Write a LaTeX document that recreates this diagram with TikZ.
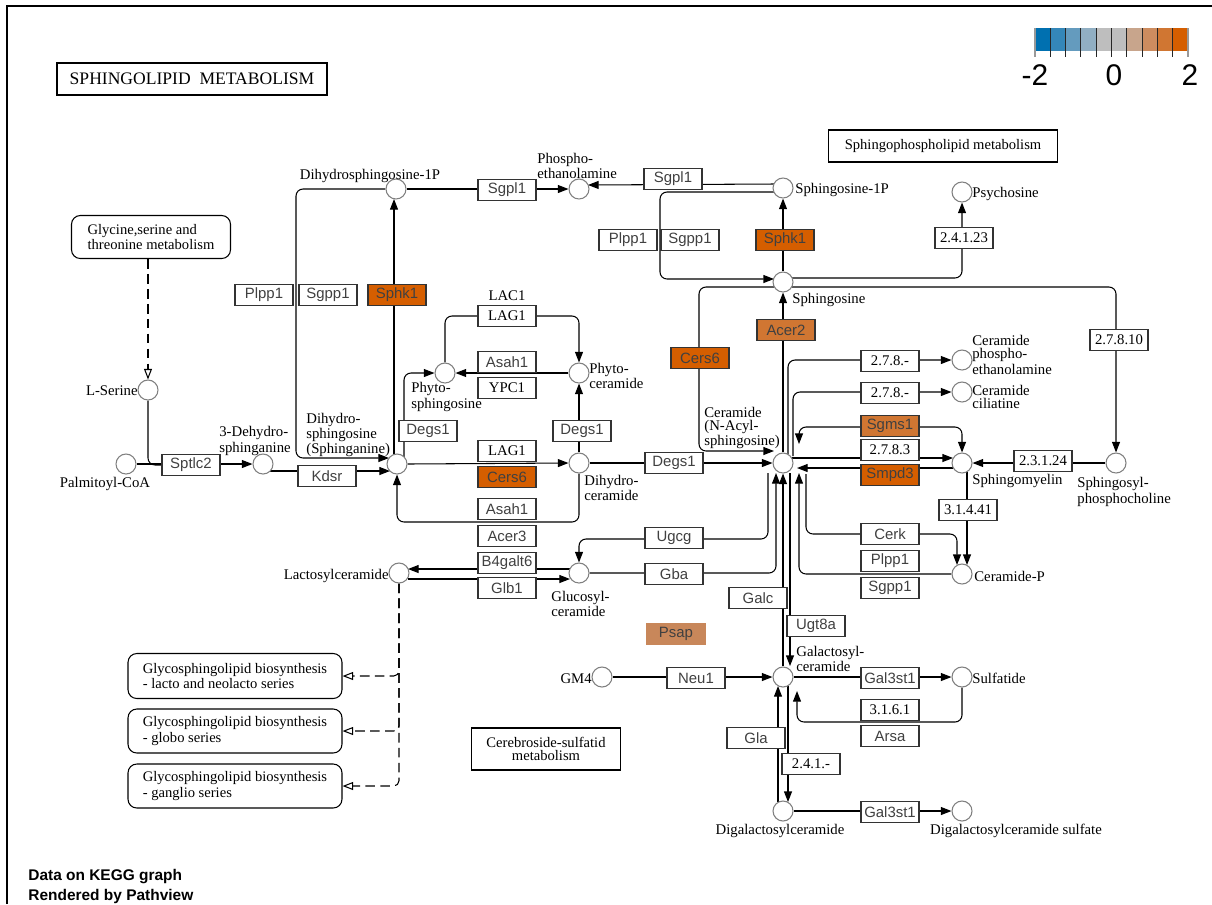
\documentclass[tikz,border=0pt]{standalone}
\usepackage{fontspec}
\setmainfont{Liberation Serif}
\setsansfont{Liberation Sans}
\usetikzlibrary{arrows.meta,calc}
\pgfdeclarelayer{bg}
\pgfsetlayers{bg,main}
\definecolor{hiA}{HTML}{D55E00}
\definecolor{hiB}{HTML}{D07632}
\definecolor{hiC}{HTML}{C8875A}
\definecolor{lgA}{HTML}{0070B0}
\definecolor{lgB}{HTML}{3487B9}
\definecolor{lgC}{HTML}{649BBE}
\definecolor{lgD}{HTML}{91AFC3}
\definecolor{lgE}{HTML}{BEBEBE}
\definecolor{lgF}{HTML}{BEBEBE}
\definecolor{lgG}{HTML}{C8A58C}
\definecolor{lgH}{HTML}{CD8C5F}
\definecolor{lgI}{HTML}{D07632}
\definecolor{lgJ}{HTML}{D55E00}
\tikzset{
  gene/.style={draw=black!80, fill=white, line width=0.6pt, minimum width=1.16cm, minimum height=0.42cm, inner sep=0pt, font=\sffamily\fontsize{8.5}{9}\selectfont, text=black!75},
  ecbox/.style={gene, font=\rmfamily\fontsize{8.4}{9}\selectfont, text=black},
  cpd/.style={circle, draw=black!50, fill=white, line width=0.6pt, minimum size=0.4cm, inner sep=0pt},
  lab/.style={inner sep=0pt, font=\rmfamily\fontsize{8.4}{7.4}\selectfont, align=left},
  mapbox/.style={draw, rounded corners=5pt, line width=0.6pt, inner sep=0pt, font=\rmfamily\fontsize{8.3}{7.4}\selectfont, align=left},
  plainbox/.style={draw, line width=0.6pt, inner sep=0pt, font=\rmfamily\fontsize{8.3}{7.4}\selectfont, align=center},
  rel/.style={line width=0.6pt, rounded corners=4pt},
  arr/.style={rel, -{Triangle[length=6pt,width=4.5pt]}},
  darr/.style={rel, {Triangle[length=6pt,width=4.5pt]}-{Triangle[length=6pt,width=4.5pt]}},
  dsh/.style={line width=0.6pt, dash pattern=on 5.5pt off 3pt, rounded corners=3pt, -{Triangle[open,length=6pt,width=4.5pt]}},
}
\begin{document}
\begin{tikzpicture}[x=0.02cm,y=-0.02cm]
\useasboundingbox (0,0) rectangle (1212,904);
\draw[line width=0.8pt] (7,904) -- (7,6) -- (1212,6);

% title and map boxes
\node[draw, line width=1.2pt, minimum width=5.4cm, minimum height=0.64cm, inner sep=0pt, font=\rmfamily\fontsize{10}{11}\selectfont] (title) at (192,79) {SPHINGOLIPID\ \ METABOLISM};
\node[mapbox, minimum width=3.18cm, minimum height=0.86cm] (m_gly) at (151,237) {Glycine,serine and\\threonine metabolism};
\node[mapbox, minimum width=4.28cm, minimum height=0.9cm] (m_lacto) at (235,676) {Glycosphingolipid biosynthesis\\- lacto and neolacto series};
\node[mapbox, minimum width=4.28cm, minimum height=0.88cm] (m_globo) at (235,731) {Glycosphingolipid biosynthesis\\- globo series};
\node[mapbox, minimum width=4.28cm, minimum height=0.88cm] (m_gang) at (235,786) {Glycosphingolipid biosynthesis\\- ganglio series};
\node[plainbox, minimum width=4.58cm, minimum height=0.64cm] (m_sphl) at (943,146) {Sphingophospholipid metabolism};
\node[plainbox, minimum width=2.98cm, minimum height=0.84cm] (m_cere) at (546,749) {Cerebroside-sulfatid\\metabolism};

% legend
\foreach \c [count=\i from 0] in {lgA,lgB,lgC,lgD,lgE,lgF,lgG,lgH,lgI,lgJ}
  \fill[\c] ({1035+\i*15.3},28) rectangle ({1035+(\i+1)*15.3},51);
\foreach \i in {1,...,9}
  \draw[line width=0.6pt, black!85] ({1035+\i*15.3},28) -- ({1035+\i*15.3},57);
\draw[line width=0.6pt, black!40] (1035,28) -- (1035,57);
\draw[line width=0.6pt, black!40] (1188,28) -- (1188,57);
\node[font=\sffamily\fontsize{17}{18}\selectfont, inner sep=0pt, anchor=base] (lg_m2) at (1035,85) {-2};
\node[font=\sffamily\fontsize{17}{18}\selectfont, inner sep=0pt, anchor=base] (lg_0) at (1114,85) {0};
\node[font=\sffamily\fontsize{17}{18}\selectfont, inner sep=0pt, anchor=base] (lg_2) at (1190,85) {2};

% compounds
\node[cpd] (c_dhs1p) at (396,189) {};
\node[cpd] (c_pe) at (579,189) {};
\node[cpd] (c_s1p) at (783,188) {};
\node[cpd] (c_psy) at (962,192) {};
\node[cpd] (c_sph) at (783,282) {};
\node[cpd] (c_ser) at (148,390) {};
\node[cpd] (c_pal) at (126,464) {};
\node[cpd] (c_kds) at (263,464) {};
\node[cpd] (c_dhs) at (397,464) {};
\node[cpd] (c_phs) at (445,373) {};
\node[cpd] (c_phc) at (579,373) {};
\node[cpd] (c_dhc) at (579,463) {};
\node[cpd] (c_cer) at (783,463) {};
\node[cpd] (c_cpe) at (962,360) {};
\node[cpd] (c_cil) at (962,392) {};
\node[cpd] (c_sm) at (962,463) {};
\node[cpd] (c_spc) at (1116,463) {};
\node[cpd] (c_cerp) at (962,574) {};
\node[cpd] (c_lac) at (399,573) {};
\node[cpd] (c_glc) at (579,573) {};
\node[cpd] (c_gm4) at (602,677) {};
\node[cpd] (c_gal) at (783,677) {};
\node[cpd] (c_sul) at (962,677) {};
\node[cpd] (c_dig) at (783,811) {};
\node[cpd] (c_dgs) at (962,811) {};

% compound labels
\node[lab, anchor=base] (l_dhs1p) at (370,179) {Dihydrosphingosine-1P};
\node[lab, anchor=west] (l_pe) at (537,166) {Phospho-\\ethanolamine};
\node[lab, anchor=west] (l_s1p) at (795,190) {Sphingosine-1P};
\node[lab, anchor=west] (l_psy) at (972,194) {Psychosine};
\node[lab, anchor=west] (l_sph) at (792,300) {Sphingosine};
\node[lab, anchor=east] (l_ser) at (138,391) {L-Serine};
\node[lab, anchor=base] (l_pal) at (105,487) {Palmitoyl-CoA};
\node[lab, anchor=west] (l_kds) at (219,441) {3-Dehydro-\\sphinganine};
\node[lab, anchor=west] (l_dhs) at (306,435) {Dihydro-\\sphingosine\\(Sphinganine)};
\node[lab, anchor=west] (l_phs) at (411,397) {Phyto-\\sphingosine};
\node[lab, anchor=west] (l_phc) at (589,376) {Phyto-\\ceramide};
\node[lab, anchor=west] (l_dhc) at (584,488) {Dihydro-\\ceramide};
\node[lab, anchor=west] (l_cer) at (704,428) {Ceramide\\(N-Acyl-\\sphingosine)};
\node[lab, anchor=west] (l_cpe) at (972,355) {Ceramide\\phospho-\\ethanolamine};
\node[lab, anchor=west] (l_cil) at (972,397) {Ceramide\\ciliatine};
\node[lab, anchor=west] (l_sm) at (972,481) {Sphingomyelin};
\node[lab, anchor=west] (l_spc) at (1077,492) {Sphingosyl-\\phosphocholine};
\node[lab, anchor=west] (l_cerp) at (974,576) {Ceramide-P};
\node[lab, anchor=east] (l_lac) at (389,576) {Lactosylceramide};
\node[lab, anchor=west] (l_glc) at (551,604) {Glucosyl-\\ceramide};
\node[lab, anchor=east] (l_gm4) at (592,679) {GM4};
\node[lab, anchor=west] (l_gal) at (796,659) {Galactosyl-\\ceramide};
\node[lab, anchor=west] (l_sul) at (972,678) {Sulfatide};
\node[lab, anchor=base] (l_dig) at (780,834) {Digalactosylceramide};
\node[lab, anchor=base] (l_dgs) at (1016,834) {Digalactosylceramide sulfate};

% gene and enzyme boxes
\node[gene] (g_sgpl1a) at (507,190) {Sgpl1};
\node[gene] (g_sgpl1b) at (673,179) {Sgpl1};
\node[gene] (g_plpp1a) at (628,240) {Plpp1};
\node[gene] (g_sgpp1a) at (690,240) {Sgpp1};
\node[gene, fill=hiA] (g_sphk1a) at (785,240) {Sphk1};
\node[ecbox] (e_24123) at (964,238) {2.4.1.23};
\node[gene] (g_plpp1b) at (264,295) {Plpp1};
\node[gene] (g_sgpp1b) at (328,295) {Sgpp1};
\node[gene, fill=hiA] (g_sphk1b) at (397,295) {Sphk1};
\node[lab] (t_lac1) at (507,296) {LAC1};
\node[ecbox] (e_lag1a) at (507,316) {LAG1};
\node[gene] (g_asah1a) at (507,362) {Asah1};
\node[ecbox] (e_ypc1) at (507,388) {YPC1};
\node[gene, fill=hiB] (g_acer2) at (786,330) {Acer2};
\node[gene, fill=hiA] (g_cers6a) at (700,358) {Cers6};
\node[ecbox] (e_2788a) at (890,361) {2.7.8.-};
\node[ecbox] (e_2788b) at (890,393) {2.7.8.-};
\node[gene] (g_degs1a) at (428,431) {Degs1};
\node[gene] (g_degs1b) at (582,431) {Degs1};
\node[ecbox] (e_lag1b) at (507,451) {LAG1};
\node[gene, fill=hiA] (g_cers6b) at (507,477) {Cers6};
\node[gene] (g_degs1c) at (674,463) {Degs1};
\node[gene, fill=hiB] (g_sgms1) at (890,426) {Sgms1};
\node[ecbox] (e_2783) at (890,450) {2.7.8.3};
\node[gene, fill=hiA] (g_smpd3) at (890,475) {Smpd3};
\node[ecbox] (e_23124) at (1043,461) {2.3.1.24};
\node[ecbox] (e_27810) at (1119,340) {2.7.8.10};
\node[ecbox] (e_31441) at (968,510) {3.1.4.41};
\node[gene] (g_kdsr) at (327,476) {Kdsr};
\node[gene] (g_sptlc2) at (191,465) {Sptlc2};
\node[gene] (g_asah1b) at (507,509) {Asah1};
\node[gene] (g_acer3) at (507,536) {Acer3};
\node[gene] (g_b4galt6) at (507,563) {B4galt6};
\node[gene] (g_glb1) at (507,588) {Glb1};
\node[gene] (g_ugcg) at (674,538) {Ugcg};
\node[gene] (g_gba) at (674,574) {Gba};
\node[gene] (g_cerk) at (890,534) {Cerk};
\node[gene] (g_plpp1c) at (890,561) {Plpp1};
\node[gene] (g_sgpp1c) at (890,588) {Sgpp1};
\node[gene] (g_galc) at (758,598) {Galc};
\node[gene, fill=hiC, draw=hiC] (g_psap) at (676,634) {Psap};
\node[gene] (g_ugt8a) at (816,626) {Ugt8a};
\node[gene] (g_neu1) at (696,678) {Neu1};
\node[gene] (g_gal3st1a) at (890,678) {Gal3st1};
\node[ecbox] (e_3161) at (890,710) {3.1.6.1};
\node[gene] (g_arsa) at (890,736) {Arsa};
\node[gene] (g_gla) at (756,738) {Gla};
\node[ecbox] (e_241) at (811,764) {2.4.1.-};
\node[gene] (g_gal3st1b) at (890,812) {Gal3st1};

% footer
\node[font=\sffamily\bfseries\fontsize{8.8}{10}\selectfont, inner sep=0pt, anchor=west] (f1) at (28,877) {Data on KEGG graph};
\node[font=\sffamily\bfseries\fontsize{8.8}{10}\selectfont, inner sep=0pt, anchor=west] (f2) at (28,896) {Rendered by Pathview};

\begin{pgfonlayer}{bg}
% top region
\draw[arr] (c_dhs1p.east) -- (c_pe.west);
\draw[arr] ($(c_s1p)+(-9,-4)$) -- ($(c_pe)+(9,-4)$);
\draw[arr] ($(c_s1p)+(-9,4)$) -- (660,192) -- (660,279) -- ($(c_sph)+(-9,-3)$);
\draw[arr] (c_sph.north) -- (c_s1p.south);
\draw[arr] ($(c_sph)+(9,-4)$) -- (962,278) -- (c_psy.south);
\draw[arr] ($(c_sph)+(9,5)$) -- (1116,287) -- (c_spc.north);
\draw[arr] (c_cer.north) -- (c_sph.south);
\draw[arr] ($(c_sph)+(-9,5)$) -- (699,287) -- (699,451) -- ($(c_cer)+(-9,-12)$);
% left region
\draw[arr] (c_dhs1p.west) -- (296,189) -- (296,458) -- ($(c_dhs)+(-8,-6)$);
\draw[arr] ($(c_dhs)+(-3,-10)$) -- ($(c_dhs1p)+(-2,10)$);
\draw[arr] (c_pal.east) -- (c_kds.west);
\draw[rel] (c_ser.south) |- (g_sptlc2.west);
\draw[dsh] (m_gly.south -| c_ser) -- (c_ser.north);
\draw[arr] ($(c_kds)+(7,7)$) -- ($(c_dhs)+(-7,7)$);
\draw[arr] (c_dhs.east) -- (c_dhc.west);
\draw[arr] (c_dhc.south) -- (579,522) -- (397,522) -- (c_dhs.south);
\draw[arr] (c_dhc.north) -- (c_phc.south);
\draw[arr] ($(c_dhs)+(7,-7)$) -- (404,373) -- (c_phs.west);
\draw[arr] (c_phc.west) -- (c_phs.east);
\draw[arr] (c_phs.north) -- (445,316) -- (579,316) -- (c_phc.north);
\draw[arr] (c_dhc.east) -- (c_cer.west);
% ceramide right side
\draw[arr] ($(c_cer)+(5,-9)$) -- (788,360) -- (c_cpe.west);
\draw[arr] ($(c_cer)+(10,-7)$) -- (793,392) -- (c_cil.west);
\draw[darr] ($(c_cer)+(16,-19)$) -- (799,427) -- (962,427) -- (c_sm.north);
\draw[arr] ($(c_cer)+(9,-5)$) -- ($(c_sm)+(-9,-5)$);
\draw[arr] ($(c_sm)+(-9,5)$) -- ($(c_cer)+(14,5)$);
\draw[arr] (c_spc.west) -- (c_sm.east);
\draw[arr] ($(c_sm)+(5,9)$) -- ($(c_cerp)+(5,-9)$);
\draw[arr] ($(c_cer)+(23,11)$) -- (806,534) -- (957,534) -- ($(c_cerp)+(-5,-9)$);
\draw[arr] (c_cerp.west) -- (799,574) -- ($(c_cer)+(16,10)$);
% ceramide lower side
\draw[arr] ($(c_cer)+(-15,10)$) -- (768,539) -- (579,539) -- (c_glc.north);
\draw[arr] (c_glc.east) -- (776,573) -- ($(c_cer)+(-7,10)$);
\draw[arr] (c_gal.north) -- (c_cer.south);
\draw[arr] ($(c_cer)+(7,10)$) -- ($(c_gal)+(7,-11)$);
\draw[arr] ($(c_glc)+(-9,-4)$) -- ($(c_lac)+(9,-4)$);
\draw[arr] ($(c_lac)+(9,6)$) -- ($(c_glc)+(-9,6)$);
\draw[dsh] (c_lac.south) |- (m_lacto.east);
\draw[dsh] (c_lac.south) |- (m_globo.east);
\draw[dsh] (c_lac.south) |- (m_gang.east);
% galactosylceramide
\draw[arr] (c_gm4.east) -- (c_gal.west);
\draw[arr] (c_gal.east) -- (c_sul.west);
\draw[arr] (c_sul.south) -- (962,722) -- (797,722) -- ($(c_gal)+(14,14)$);
\draw[arr] ($(c_dig)+(-5,-9)$) -- ($(c_gal)+(-5,9)$);
\draw[arr] ($(c_gal)+(5,9)$) -- ($(c_dig)+(5,-9)$);
\draw[arr] (c_dig.east) -- (c_dgs.west);
\end{pgfonlayer}
\end{tikzpicture}
\end{document}
